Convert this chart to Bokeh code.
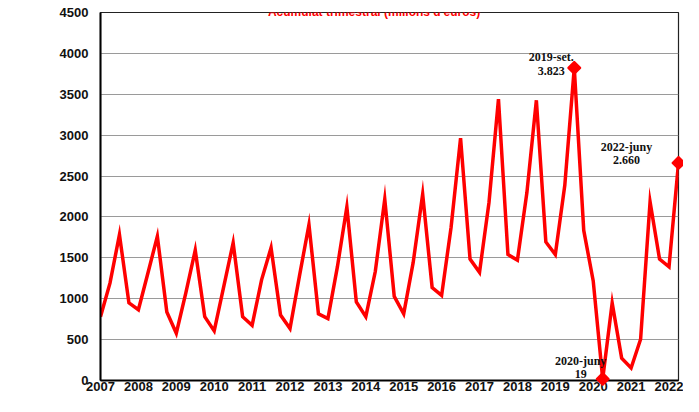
from bokeh.plotting import figure
from bokeh.models import Range1d, FixedTicker, Label, ColumnDataSource
from bokeh.embed import file_html
from bokeh.resources import INLINE

# ---- data -------------------------------------------------------------
years = [str(y) for y in range(2007, 2023)]            # x tick labels
months = ["març", "juny", "set.", "des."]               # quarter ends
values = [                                              # millions of euros
    780, 1190, 1783, 949,      # 2007
    865, 1312, 1763, 837,      # 2008
    578, 1068, 1594, 780,      # 2009
    607, 1145, 1683, 780,      # 2010
    675, 1231, 1623, 800,      # 2011
    635, 1280, 1905, 816,      # 2012
    756, 1389, 2122, 961,      # 2013
    780, 1332, 2218, 1028,     # 2014
    815, 1444, 2278, 1137,     # 2015
    1040, 1875, 2964, 1484,    # 2016
    1323, 2177, 3440, 1540,    # 2017
    1472, 2298, 3427, 1694,    # 2018
    1540, 2387, 3823, 1835,    # 2019
    1218, 19, 948, 274,        # 2020
    153, 504, 2185, 1484,      # 2021
    1391, 2660,                # 2022
]
highlights = ["2019-set.", "2020-juny", "2022-juny"]
y_ticks = list(range(0, 4501, 500))
title_text = "Acumulat trimestral (milions d'euros)"

periods = [f"{y}-{m}" for y in years for m in months][:len(values)]
x = list(range(len(values)))

RED = "#ff0000"

p = figure(width=683, height=396,
           x_range=Range1d(0, len(values) - 1), y_range=Range1d(0, 4500),
           output_backend="svg", toolbar_location=None,
           min_border_left=100, min_border_right=5,
           min_border_top=12, min_border_bottom=16)
p.background_fill_color = "white"
p.border_fill_color = "white"
p.outline_line_color = "#222222"
p.outline_line_width = 1.2

# grid
p.xgrid.visible = False
p.ygrid.ticker = FixedTicker(ticks=y_ticks)
p.ygrid.grid_line_color = "#9a9a9a"
p.ygrid.grid_line_width = 1

# axes
p.yaxis.ticker = FixedTicker(ticks=y_ticks)
p.xaxis.ticker = FixedTicker(ticks=[i * 4 for i in range(len(years))])
p.xaxis.major_label_overrides = {i * 4: years[i] for i in range(len(years))}
for ax in (p.xaxis, p.yaxis):
    ax.axis_line_color = "black"
    ax.axis_line_width = 2
    ax.major_tick_line_color = None
    ax.minor_tick_line_color = None
    ax.major_tick_out = 0
    ax.major_tick_in = 0
    ax.major_label_text_font = "Liberation Sans"
    ax.major_label_text_font_style = "bold"
    ax.major_label_text_font_size = "13px"
    ax.major_label_text_color = "#111111"
p.yaxis.major_label_standoff = 12
p.xaxis.major_label_standoff = 1

# series
src = ColumnDataSource(dict(x=x, y=values, period=periods))
p.line("x", "y", source=src, line_color=RED, line_width=3.5, line_join="miter")

hx = [periods.index(h) for h in highlights]
hy = [values[i] for i in hx]
p.scatter(hx, hy, marker="square", angle=0.785398, size=9,
          fill_color=RED, line_color=RED, line_width=1.5, level="overlay")


def fmt(v):
    return f"{v:,}".replace(",", ".")


# annotation offsets (px): (x_off, y_off line1, y_off line2)
offsets = {
    "2019-set.": (-23, 11, -3.5),
    "2020-juny": (-22, 17.5, 4.5),
    "2022-juny": (-52, 16, 2.5),
}
for i, h in zip(hx, highlights):
    xo, y1, y2 = offsets[h]
    for txt, yo in ((h, y1), (fmt(values[i]), y2)):
        p.add_layout(Label(x=i, y=values[i], text=txt, x_offset=xo, y_offset=yo,
                           text_align="center", text_baseline="middle",
                           text_font="Liberation Serif", text_font_style="bold",
                           text_font_size="12px", text_color="#111111"))

# title, kept inside the small band above the plot frame
p.add_layout(Label(x=28.87, y=4512, text=title_text, text_align="center",
                   text_baseline="alphabetic", text_font="Liberation Sans",
                   text_font_style="bold", text_font_size="12px",
                   text_color=RED))

open("out.html", "w").write(file_html(p, INLINE))
